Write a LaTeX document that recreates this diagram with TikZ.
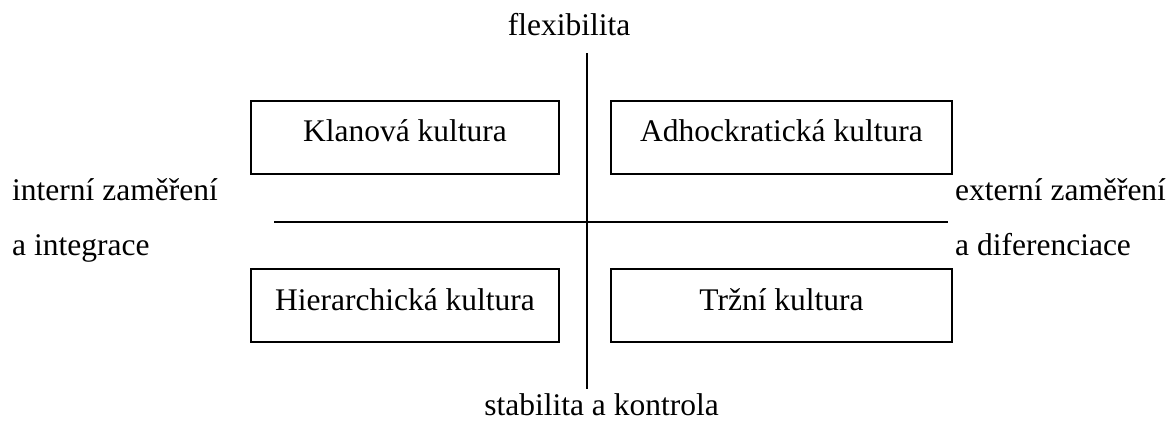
\documentclass[tikz,border=0pt]{standalone}
\usepackage{fontspec}
\setmainfont{Liberation Serif}
\begin{document}
\begin{tikzpicture}[x=1pt,y=-1pt,
  culture/.style={draw, line width=1.3pt, inner sep=0pt, minimum height=73pt, font=\fontsize{31.5}{36}\selectfont},
  axislabel/.style={inner sep=0pt, font=\fontsize{31.5}{36}\selectfont},
  axis/.style={line width=1.7pt}]
\useasboundingbox (0,0) rectangle (1171,423);

% quadrant boxes
\node[culture, minimum width=308pt] (clan) at (405,137.5) {};
\node[axislabel, anchor=base] (clant) at (405,141.7) {Klanová kultura};
\node[culture, minimum width=341pt] (adhoc) at (781.5,137.5) {};
\node[axislabel, anchor=base] (adhoct) at (781.5,141.7) {Adhockratická kultura};
\node[culture, minimum width=308pt] (hier) at (405,305.5) {};
\node[axislabel, anchor=base] (hiert) at (405,310) {Hierarchická kultura};
\node[culture, minimum width=341pt] (market) at (781.5,305.5) {};
\node[axislabel, anchor=base] (markett) at (781.5,310) {Tržní kultura};

% axes
\coordinate (top) at (587,53);
\coordinate (bottom) at (587,389);
\coordinate (left) at (274,221.7);
\coordinate (right) at (948,221.7);
\draw[axis] (top) -- (bottom);
\draw[axis] (left) -- (right);

% axis labels
\node[axislabel, anchor=base] (flex) at (569,35) {flexibilita};
\node[axislabel, anchor=base] (stab) at (601.5,415) {stabilita a kontrola};
\node[axislabel, anchor=base west] (int1) at (12,200) {interní zaměření};
\node[axislabel, anchor=base west] (int2) at (12,255) {a integrace};
\node[axislabel, anchor=base west] (ext1) at (955,200) {externí zaměření};
\node[axislabel, anchor=base west] (ext2) at (955,255) {a diferenciace};
\end{tikzpicture}
\end{document}
